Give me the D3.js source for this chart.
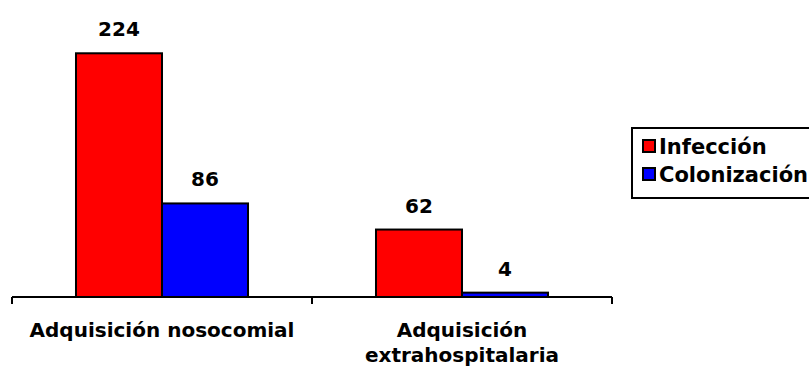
<!DOCTYPE html>
<html>
<head>
<meta charset="utf-8">
<script src="https://cdn.jsdelivr.net/npm/d3@7"></script>
<style>
  html, body { margin: 0; padding: 0; background: #fff; }
  svg { display: block; }
  text { font-family: "DejaVu Sans", Verdana, sans-serif; font-weight: bold; fill: #000; }
</style>
</head>
<body>
<svg id="chart" width="809" height="374"></svg>
<script>
// Cases by acquisition type
const categories = [["Adquisición nosocomial"], ["Adquisición", "extrahospitalaria"]];
const seriesNames = ["Infección", "Colonización"];
const seriesColors = ["#ff0000", "#0000ff"];
const infeccion = [224, 62];
const colonizacion = [86, 4];

const svg = d3.select("#chart");
const margin = { left: 12, right: 197, top: 25, bottom: 77 };
const W = 809, H = 374;
const baseY = H - margin.bottom;

const x0 = d3.scaleBand()
  .domain(d3.range(categories.length))
  .range([margin.left, W - margin.right])
  .paddingInner(0).paddingOuter(0);

const x1 = d3.scaleBand()
  .domain(seriesNames)
  .range([0, x0.bandwidth()])
  .paddingOuter(0.744).paddingInner(0);

const y = d3.scaleLinear().domain([0, 250]).range([baseY, margin.top]);

const rows = categories.map((c, i) => ({
  idx: i,
  values: [infeccion[i], colonizacion[i]]
}));

const groups = svg.selectAll("g.grp").data(rows).join("g")
  .attr("class", "grp")
  .attr("transform", d => `translate(${x0(d.idx)},0)`);

groups.selectAll("rect").data(d => d.values.map((v, j) => ({ v, j }))).join("rect")
  .attr("x", d => x1(seriesNames[d.j]))
  .attr("y", d => y(d.v))
  .attr("width", x1.bandwidth())
  .attr("height", d => baseY - y(d.v))
  .attr("fill", d => seriesColors[d.j])
  .attr("stroke", "#000")
  .attr("stroke-width", 2);

groups.selectAll("text.val").data(d => d.values.map((v, j) => ({ v, j }))).join("text")
  .attr("class", "val")
  .attr("x", d => x1(seriesNames[d.j]) + x1.bandwidth() / 2)
  .attr("y", d => y(d.v) - 17)
  .attr("text-anchor", "middle")
  .style("font-size", "20px")
  .text(d => d.v);

// category axis with ticks at group boundaries
const axis = svg.append("g");
axis.append("line")
  .attr("x1", margin.left).attr("x2", W - margin.right)
  .attr("y1", baseY).attr("y2", baseY)
  .attr("stroke", "#000").attr("stroke-width", 2);
const tickXs = d3.range(categories.length + 1).map(i =>
  i < categories.length ? x0(i) : x0(i - 1) + x0.bandwidth());
axis.selectAll("line.tick").data(tickXs).join("line")
  .attr("class", "tick")
  .attr("x1", d => d).attr("x2", d => d)
  .attr("y1", baseY).attr("y2", baseY + 7)
  .attr("stroke", "#000").attr("stroke-width", 2);

const catLabels = axis.selectAll("text.cat").data(rows).join("text")
  .attr("class", "cat")
  .attr("text-anchor", "middle")
  .style("font-size", "20px")
  .attr("x", d => x0(d.idx) + x0.bandwidth() / 2)
  .attr("y", baseY + 40);
catLabels.selectAll("tspan").data(d => categories[d.idx]).join("tspan")
  .attr("x", function () { return d3.select(this.parentNode).attr("x"); })
  .attr("dy", (d, i) => i === 0 ? 0 : 25)
  .text(d => d);

// legend
const legend = svg.append("g").attr("transform", "translate(632,128)");
legend.append("rect")
  .attr("x", 0).attr("y", 0).attr("width", 182).attr("height", 70)
  .attr("fill", "#fff").attr("stroke", "#000").attr("stroke-width", 2);
const items = legend.selectAll("g.item").data(seriesNames).join("g")
  .attr("class", "item")
  .attr("transform", (d, i) => `translate(0,${18 + i * 28})`);
items.append("rect")
  .attr("x", 11).attr("y", -6).attr("width", 12).attr("height", 12)
  .attr("fill", (d, i) => seriesColors[i])
  .attr("stroke", "#000").attr("stroke-width", 2);
items.append("text")
  .attr("x", 27).attr("y", 0).attr("dy", "0.36em")
  .style("font-size", "21px")
  .text(d => d);
</script>
</body>
</html>
